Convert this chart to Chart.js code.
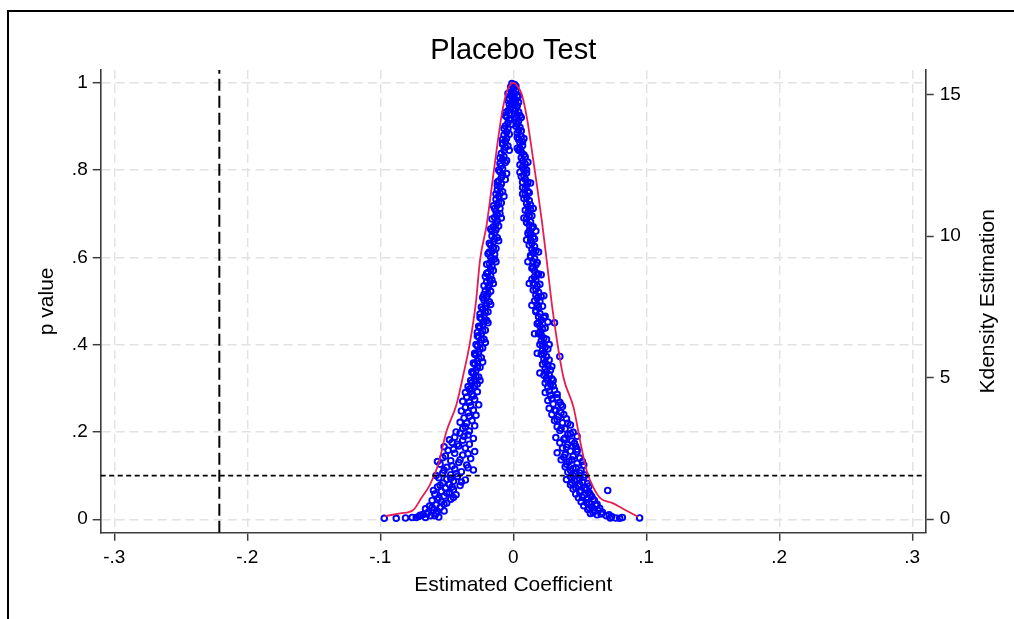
<!DOCTYPE html>
<html>
<head>
<meta charset="utf-8">
<title>Placebo Test</title>
<script src="https://cdn.jsdelivr.net/npm/chart.js@4.4.1/dist/chart.umd.min.js"></script>
<style>
  html, body { margin: 0; padding: 0; background: #fff; overflow: hidden; }
  #frame { position: absolute; left: 7px; top: 10px; width: 1200px; height: 800px; border: 2px solid #000; }
  #wrap { position: absolute; left: 0; top: 0; width: 1014px; height: 619px; }
</style>
</head>
<body>
<div id="frame"></div>
<div id="wrap"><canvas id="placeboChart" width="1014" height="619"></canvas></div>
<script>
// Axis ticks
const xTicks = [-0.3, -0.2, -0.1, 0, 0.1, 0.2, 0.3];
const pTicks = [0, 0.2, 0.4, 0.6, 0.8, 1];
const densityTicks = [0, 5, 10, 15];

// Reference lines: true estimate and the 10% significance level
const cutoffCoef = -0.221;
const pThreshold = 0.1;

// Placebo draws [estimated coefficient, p value], negative side
const drawsNegative = [
  [-0.001,0.998],[0.000,0.992],[-0.002,0.985],[-0.001,0.978],[-0.002,0.971],[-0.003,0.964],[-0.001,0.957],[-0.003,0.950],[-0.002,0.943],[-0.004,0.936],
  [-0.003,0.929],[-0.005,0.922],[-0.003,0.915],[-0.004,0.908],[-0.006,0.901],[-0.004,0.894],[-0.005,0.887],[-0.007,0.880],[-0.005,0.873],[-0.006,0.866],
  [-0.008,0.859],[-0.006,0.852],[-0.007,0.845],[-0.009,0.838],[-0.007,0.831],[-0.008,0.824],[-0.006,0.817],[-0.009,0.810],[-0.008,0.803],[-0.010,0.796],
  [-0.008,0.789],[-0.009,0.782],[-0.011,0.775],[-0.009,0.768],[-0.010,0.761],[-0.012,0.754],[-0.010,0.747],[-0.011,0.740],[-0.013,0.733],[-0.011,0.726],
  [-0.012,0.719],[-0.010,0.712],[-0.013,0.705],[-0.012,0.698],[-0.014,0.691],[-0.012,0.684],[-0.013,0.677],[-0.015,0.670],[-0.013,0.663],[-0.014,0.656],
  [-0.016,0.649],[-0.014,0.642],[-0.015,0.635],[-0.017,0.628],[-0.015,0.621],[-0.016,0.614],[-0.014,0.607],[-0.017,0.600],[-0.016,0.593],[-0.018,0.586],
  [-0.016,0.579],[-0.017,0.572],[-0.019,0.565],[-0.017,0.558],[-0.018,0.551],[-0.020,0.544],[-0.018,0.537],[-0.019,0.530],[-0.021,0.523],[-0.019,0.516],
  [-0.020,0.509],[-0.022,0.502],[-0.020,0.495],[-0.021,0.488],[-0.023,0.481],[-0.021,0.474],[-0.022,0.467],[-0.024,0.460],[-0.022,0.453],[-0.023,0.446],
  [-0.025,0.439],[-0.023,0.432],[-0.024,0.425],[-0.026,0.418],[-0.024,0.411],[-0.025,0.404],[-0.027,0.397],[-0.025,0.390],[-0.026,0.383],[-0.028,0.376],
  [-0.026,0.369],[-0.027,0.362],[-0.029,0.355],[-0.027,0.348],[-0.028,0.341],[-0.030,0.334],[-0.028,0.327],[-0.029,0.320],[-0.031,0.313],[-0.029,0.306],
  [-0.004,0.975],[0.001,0.955],[-0.006,0.925],[-0.001,0.905],[-0.008,0.870],[-0.003,0.845],[-0.010,0.815],[-0.005,0.792],[-0.012,0.765],[-0.007,0.740],
  [-0.014,0.712],[-0.009,0.690],[-0.016,0.660],[-0.011,0.638],[-0.018,0.612],[-0.013,0.590],[-0.020,0.563],[-0.015,0.540],[-0.022,0.515],[-0.017,0.492],
  [-0.025,0.470],[-0.019,0.450],[-0.027,0.428],[-0.021,0.405],[-0.029,0.380],[-0.023,0.360],[-0.031,0.338],[-0.025,0.318],[-0.032,0.300],
  [-0.002,0.990],[-0.004,0.960],[0.000,0.940],[-0.006,0.932],[-0.002,0.918],[-0.007,0.895],[-0.003,0.882],[-0.008,0.862],[-0.004,0.855],[-0.010,0.828],
  [-0.005,0.822],[-0.011,0.800],[-0.006,0.778],[-0.012,0.772],[-0.008,0.750],[-0.013,0.745],[-0.009,0.725],[-0.015,0.718],[-0.010,0.700],[-0.016,0.688],
  [-0.011,0.672],[-0.017,0.665],[-0.012,0.645],[-0.018,0.632],[-0.013,0.620],[-0.019,0.608],[-0.014,0.596],[-0.020,0.584],[-0.015,0.570],[-0.021,0.556],
  [-0.016,0.548],[-0.022,0.535],[-0.017,0.522],[-0.023,0.508],[-0.018,0.498],[-0.024,0.486],[-0.019,0.475],[-0.025,0.462],[-0.020,0.455],[-0.026,0.442],
  [-0.021,0.433],[-0.027,0.420],[-0.022,0.412],[-0.028,0.400],[-0.023,0.392],[-0.029,0.378],[-0.024,0.370],[-0.030,0.358],[-0.025,0.348],[-0.031,0.336],
  [-0.026,0.326],[-0.032,0.318],[-0.027,0.310],[-0.034,0.304],
  [-0.033,0.298],[-0.027,0.292],[-0.031,0.286],[-0.035,0.280],[-0.029,0.274],[-0.033,0.268],[-0.026,0.262],[-0.036,0.256],[-0.030,0.250],[-0.034,0.244],
  [-0.028,0.238],[-0.037,0.232],[-0.031,0.226],[-0.035,0.220],[-0.029,0.214],[-0.038,0.208],[-0.033,0.202],
  [-0.036,0.290],[-0.030,0.282],[-0.038,0.270],[-0.032,0.260],[-0.039,0.248],[-0.033,0.236],[-0.040,0.222],[-0.036,0.212],[-0.043,0.200],
  [-0.040,0.197],[-0.034,0.193],[-0.044,0.188],[-0.030,0.185],[-0.038,0.181],[-0.046,0.176],[-0.033,0.172],[-0.041,0.168],[-0.036,0.163],[-0.049,0.158],
  [-0.029,0.155],[-0.044,0.151],[-0.038,0.147],[-0.053,0.141],[-0.032,0.139],[-0.047,0.134],[-0.041,0.130],[-0.055,0.126],[-0.035,0.124],[-0.050,0.119],
  [-0.044,0.115],[-0.030,0.113],[-0.039,0.109],[-0.053,0.106],[-0.047,0.102],
  [-0.037,0.190],[-0.048,0.182],[-0.042,0.172],[-0.052,0.166],[-0.045,0.160],[-0.034,0.150],[-0.051,0.145],[-0.040,0.136],[-0.057,0.132],[-0.046,0.122],
  [-0.034,0.118],[-0.052,0.112],[-0.043,0.104],
  [-0.042,0.098],[-0.056,0.095],[-0.050,0.092],[-0.036,0.090],[-0.045,0.087],[-0.053,0.083],[-0.048,0.080],[-0.040,0.077],[-0.057,0.074],[-0.051,0.071],
  [-0.045,0.068],[-0.054,0.064],[-0.048,0.061],[-0.059,0.058],[-0.043,0.056],[-0.052,0.053],[-0.056,0.049],[-0.047,0.046],[-0.061,0.043],[-0.054,0.040],
  [-0.050,0.037],[-0.058,0.033],[-0.063,0.030],[-0.055,0.027],[-0.066,0.024],[-0.060,0.021],[-0.052,0.019],[-0.064,0.016],[-0.058,0.013],[-0.068,0.011],
  [-0.062,0.008],[-0.071,0.006],[-0.056,0.005],[-0.066,0.004],[-0.076,0.004],[-0.081,0.003],[-0.088,0.002],[-0.097,0.002],
  [-0.058,0.100],[-0.047,0.094],[-0.039,0.085],[-0.055,0.078],[-0.046,0.074],[-0.060,0.066],[-0.050,0.060],[-0.045,0.050],[-0.057,0.045],[-0.052,0.034],
  [-0.061,0.027],[-0.057,0.018],[-0.065,0.012],[-0.070,0.009],[-0.059,0.008],[-0.073,0.004]
];

// Placebo draws [estimated coefficient, p value], positive side
const drawsPositive = [
  [0.001,0.996],[0.000,0.989],[0.002,0.982],[0.001,0.975],[0.003,0.968],[0.002,0.961],[0.001,0.954],[0.003,0.947],[0.002,0.940],[0.004,0.933],
  [0.003,0.926],[0.002,0.919],[0.004,0.912],[0.003,0.905],[0.005,0.898],[0.004,0.891],[0.003,0.884],[0.006,0.877],[0.004,0.870],[0.005,0.863],
  [0.007,0.856],[0.005,0.849],[0.006,0.842],[0.008,0.835],[0.006,0.828],[0.007,0.821],[0.009,0.814],[0.007,0.807],[0.008,0.800],[0.010,0.793],
  [0.008,0.786],[0.009,0.779],[0.007,0.772],[0.010,0.765],[0.009,0.758],[0.011,0.751],[0.009,0.744],[0.010,0.737],[0.012,0.730],[0.010,0.723],
  [0.011,0.716],[0.013,0.709],[0.011,0.702],[0.012,0.695],[0.010,0.688],[0.013,0.681],[0.012,0.674],[0.014,0.667],[0.012,0.660],[0.013,0.653],
  [0.015,0.646],[0.013,0.639],[0.014,0.632],[0.016,0.625],[0.014,0.618],[0.015,0.611],[0.013,0.604],[0.016,0.597],[0.015,0.590],[0.017,0.583],
  [0.015,0.576],[0.016,0.569],[0.018,0.562],[0.016,0.555],[0.017,0.548],[0.015,0.541],[0.018,0.534],[0.017,0.527],[0.019,0.520],[0.017,0.513],
  [0.018,0.506],[0.020,0.499],[0.018,0.492],[0.019,0.485],[0.017,0.478],[0.020,0.471],[0.019,0.464],[0.021,0.457],[0.019,0.450],[0.020,0.443],
  [0.022,0.436],[0.020,0.429],[0.021,0.422],[0.023,0.415],[0.021,0.408],[0.022,0.401],[0.024,0.394],[0.022,0.387],[0.023,0.380],[0.025,0.373],
  [0.023,0.366],[0.024,0.359],[0.026,0.352],[0.024,0.345],[0.025,0.338],[0.027,0.331],[0.025,0.324],[0.026,0.317],[0.028,0.310],[0.026,0.303],
  [0.004,0.970],[-0.001,0.950],[0.006,0.920],[0.002,0.900],[0.008,0.872],[0.003,0.850],[0.011,0.818],[0.005,0.795],[0.013,0.770],[0.007,0.745],
  [0.015,0.712],[0.008,0.690],[0.017,0.660],[0.010,0.640],[0.019,0.612],[0.011,0.590],[0.021,0.560],[0.012,0.540],[0.023,0.512],[0.014,0.490],
  [0.024,0.465],[0.026,0.452],[0.031,0.450],[0.016,0.425],[0.027,0.400],[0.018,0.380],[0.035,0.373],[0.029,0.350],[0.020,0.335],[0.030,0.318],
  [0.002,0.992],[0.000,0.965],[0.004,0.955],[0.001,0.935],[0.005,0.925],[0.002,0.910],[0.006,0.890],[0.003,0.875],[0.007,0.865],[0.004,0.845],
  [0.009,0.830],[0.005,0.812],[0.010,0.800],[0.006,0.785],[0.011,0.772],[0.007,0.760],[0.012,0.748],[0.008,0.735],[0.013,0.720],[0.009,0.708],
  [0.014,0.695],[0.010,0.680],[0.015,0.670],[0.011,0.655],[0.016,0.642],[0.012,0.628],[0.017,0.615],[0.013,0.600],[0.018,0.588],[0.014,0.575],
  [0.019,0.562],[0.014,0.550],[0.020,0.538],[0.015,0.525],[0.021,0.510],[0.016,0.500],[0.022,0.488],[0.017,0.475],[0.023,0.462],[0.018,0.448],
  [0.024,0.438],[0.019,0.425],[0.025,0.412],[0.020,0.400],[0.026,0.390],[0.021,0.378],[0.027,0.365],[0.022,0.355],[0.028,0.342],[0.023,0.330],
  [0.029,0.322],[0.024,0.312],[0.030,0.305],
  [0.031,0.296],[0.024,0.290],[0.028,0.284],[0.033,0.278],[0.026,0.272],[0.035,0.268],[0.030,0.264],[0.037,0.258],[0.027,0.254],[0.032,0.249],
  [0.036,0.244],[0.029,0.240],[0.034,0.235],[0.040,0.230],[0.031,0.226],[0.037,0.221],[0.043,0.216],[0.033,0.212],[0.039,0.207],[0.035,0.203],
  [0.027,0.294],[0.033,0.286],[0.029,0.276],[0.036,0.262],[0.031,0.250],[0.038,0.240],[0.033,0.228],[0.041,0.220],[0.036,0.208],[0.043,0.196],
  [0.045,0.199],[0.048,0.190],[0.041,0.194],[0.032,0.187],[0.038,0.183],[0.044,0.179],[0.035,0.175],[0.041,0.171],[0.047,0.167],[0.037,0.163],
  [0.048,0.160],[0.043,0.156],[0.033,0.152],[0.039,0.148],[0.045,0.144],[0.050,0.140],[0.036,0.136],[0.042,0.132],[0.048,0.128],[0.053,0.124],
  [0.039,0.120],[0.045,0.116],[0.051,0.112],[0.041,0.108],[0.047,0.104],[0.054,0.101],
  [0.039,0.186],[0.046,0.174],[0.040,0.165],[0.048,0.155],[0.038,0.142],[0.044,0.136],[0.052,0.132],[0.040,0.126],[0.047,0.118],[0.043,0.112],
  [0.050,0.106],[0.045,0.100],
  [0.043,0.097],[0.050,0.094],[0.040,0.091],[0.046,0.088],[0.052,0.085],[0.056,0.082],[0.043,0.079],[0.049,0.076],[0.054,0.072],[0.071,0.066],
  [0.045,0.069],[0.051,0.065],[0.057,0.061],[0.047,0.058],[0.053,0.055],[0.059,0.052],[0.049,0.049],[0.055,0.046],[0.061,0.043],[0.051,0.040],
  [0.057,0.037],[0.063,0.034],[0.053,0.031],[0.059,0.028],[0.065,0.025],[0.056,0.022],[0.061,0.019],[0.067,0.016],[0.058,0.013],[0.063,0.010],
  [0.070,0.008],[0.074,0.006],[0.077,0.003],[0.080,0.002],[0.082,0.004],[0.095,0.003],
  [0.053,0.096],[0.048,0.090],[0.044,0.084],[0.050,0.080],[0.057,0.076],[0.047,0.072],[0.055,0.068],[0.050,0.062],[0.058,0.056],[0.052,0.050],
  [0.060,0.046],[0.055,0.038],[0.062,0.032],[0.057,0.026],[0.064,0.020],[0.060,0.015],[0.066,0.012],[0.072,0.010],[0.073,0.003]
];

// Kernel density of the placebo coefficients [coefficient, density]
const kdensityCurve = [
  [-0.0965,0.10],[-0.085,0.20],[-0.0752,0.32],[-0.069,0.75],[-0.0628,1.20],[-0.0565,1.91],[-0.0503,3.09],[-0.0428,4.03],
  [-0.0376,5.09],[-0.0326,6.23],[-0.0280,7.70],[-0.0250,9.16],[-0.0200,10.4],[-0.0150,12.17],[-0.0087,14.29],[-0.0050,15.1],
  [-0.0020,15.38],[0.0000,15.42],[0.0030,15.32],[0.0065,15.0],[0.0103,14.18],[0.0141,13.0],[0.0178,11.8],[0.0216,10.5],
  [0.0251,9.16],[0.0296,7.39],[0.0376,5.03],[0.0454,3.93],[0.0504,2.73],[0.0554,1.67],[0.0604,1.10],[0.0654,0.74],
  [0.0742,0.57],[0.0842,0.32],[0.0938,0.08]
];

const FONT = 'Arial, "Liberation Sans", Helvetica, sans-serif';
const AXIS_COLOR = '#3c3c3c';
const GRID_COLOR = '#e2e2e2';

const xMin = -0.3102, xMax = 0.3101;
const pMin = -0.0309, pMax = 1.0291;
const dMin = -0.484, dMax = 15.88;

// Stata-style numbers: drop the leading zero (.2, -.1)
function stataLabel(v) {
  if (v === 0) return '0';
  return String(+v.toFixed(2)).replace(/^(-?)0\./, '$1.');
}

const toPoints = rows => rows.map(([x, y]) => ({x: x, y: y}));
const fixTicks = values => scale => { scale.ticks = values.map(v => ({value: v})); };

// Right axis title reads bottom-to-top like the left one
const rightAxisTitle = {
  id: 'rightAxisTitle',
  afterDraw(chart) {
    const {ctx, chartArea} = chart;
    const axis = chart.scales.y1;
    ctx.save();
    ctx.translate(axis.right - 26, (chartArea.top + chartArea.bottom) / 2);
    ctx.rotate(-Math.PI / 2);
    ctx.font = '21px ' + FONT;
    ctx.fillStyle = '#000';
    ctx.textAlign = 'center';
    ctx.textBaseline = 'middle';
    ctx.fillText('Kdensity Estimation', 0, 0);
    ctx.restore();
  }
};

const tickFont = {family: FONT, size: 19};
const titleFont = {family: FONT, size: 21};

new Chart(document.getElementById('placeboChart'), {
  type: 'scatter',
  data: {
    datasets: [
      {
        type: 'line',
        label: 'true estimate',
        data: [{x: cutoffCoef, y: pMin}, {x: cutoffCoef, y: pMax}],
        borderColor: '#000',
        borderWidth: 2,
        borderDash: [12, 5],
        pointRadius: 0,
        yAxisID: 'y',
        order: 0
      },
      {
        type: 'line',
        label: 'p = 0.1',
        data: [{x: xMin, y: pThreshold}, {x: xMax, y: pThreshold}],
        borderColor: '#000',
        borderWidth: 1.8,
        borderDash: [5, 3.5],
        pointRadius: 0,
        yAxisID: 'y',
        order: 0
      },
      {
        type: 'line',
        label: 'kdensity',
        data: toPoints(kdensityCurve),
        yAxisID: 'y1',
        borderColor: '#e41e54',
        borderWidth: 1.8,
        pointRadius: 0,
        cubicInterpolationMode: 'monotone',
        order: 1
      },
      {
        label: 'p value',
        data: toPoints(drawsNegative.concat(drawsPositive)),
        yAxisID: 'y',
        pointStyle: 'circle',
        pointRadius: 2.8,
        borderWidth: 1.9,
        borderColor: '#0000ff',
        backgroundColor: 'rgba(0,0,0,0)',
        order: 2
      }
    ]
  },
  options: {
    responsive: false,
    animation: false,
    devicePixelRatio: 1,
    layout: {padding: 0},
    plugins: {
      legend: {display: false},
      tooltip: {enabled: false},
      title: {
        display: true,
        fullSize: false,
        text: 'Placebo Test',
        color: '#000',
        font: {family: FONT, size: 29, weight: 'normal'},
        padding: {top: 34, bottom: 1.2}
      }
    },
    scales: {
      x: {
        type: 'linear',
        min: xMin,
        max: xMax,
        afterBuildTicks: fixTicks(xTicks),
        afterFit: scale => { scale.height = 86.3; },
        ticks: {callback: stataLabel, color: '#000', font: tickFont, padding: 6, maxRotation: 0, autoSkip: false},
        grid: {color: GRID_COLOR, lineWidth: 1.4, tickLength: 8, tickColor: AXIS_COLOR, tickWidth: 1.5},
        border: {color: AXIS_COLOR, width: 1.6, dash: [9, 5]},
        title: {display: true, text: 'Estimated Coefficient', color: '#000', font: titleFont, padding: {top: 0, bottom: 21.4}}
      },
      y: {
        type: 'linear',
        position: 'left',
        min: pMin,
        max: pMax,
        afterBuildTicks: fixTicks(pTicks),
        afterFit: scale => { scale.width = 100.7; },
        ticks: {callback: stataLabel, color: '#000', font: tickFont, padding: 5},
        grid: {color: GRID_COLOR, lineWidth: 1.4, tickLength: 8, tickColor: AXIS_COLOR, tickWidth: 1.5},
        border: {color: AXIS_COLOR, width: 1.6, dash: [9, 5]},
        title: {display: true, text: 'p value', color: '#000', font: titleFont, padding: {top: 34.4, bottom: 0}}
      },
      y1: {
        type: 'linear',
        position: 'right',
        min: dMin,
        max: dMax,
        afterBuildTicks: fixTicks(densityTicks),
        afterFit: scale => { scale.width = 88.3; },
        ticks: {color: '#000', font: tickFont, padding: 6},
        grid: {drawOnChartArea: false, tickLength: 8, tickColor: AXIS_COLOR, tickWidth: 1.5},
        border: {color: AXIS_COLOR, width: 1.6}
      }
    }
  },
  plugins: [rightAxisTitle]
});
</script>
</body>
</html>
